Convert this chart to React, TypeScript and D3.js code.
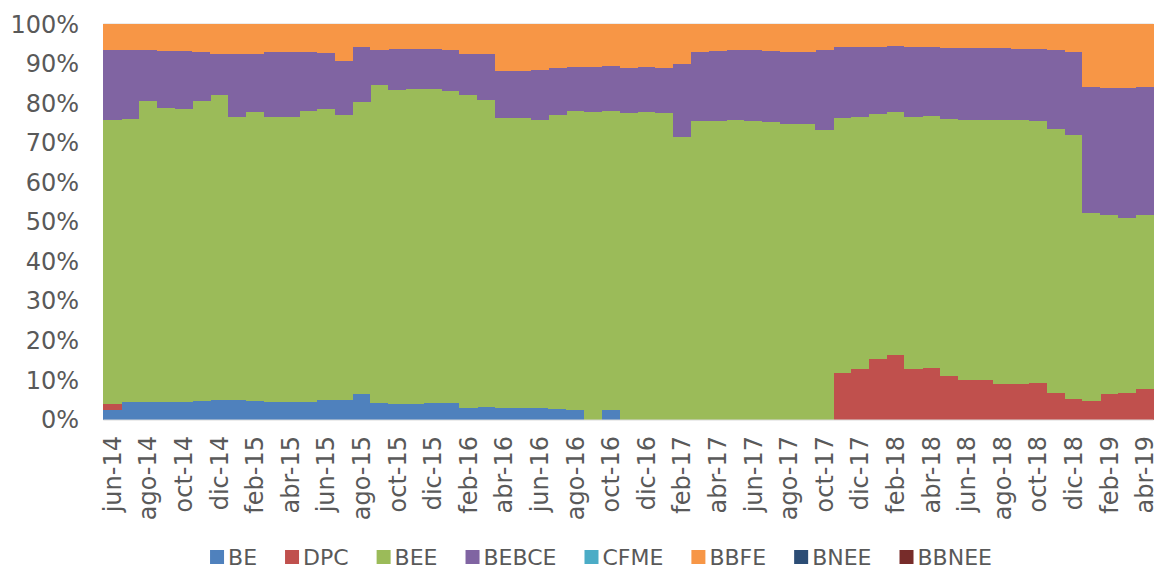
import React, { useEffect, useRef } from 'react';
import * as d3 from 'd3';

const W = 1158;
const H = 570;
const FONT = '"DejaVu Sans", Verdana, sans-serif';
const TEXT = '#595959';

const months = [
  'jun-14','jul-14','ago-14','sep-14','oct-14','nov-14','dic-14','ene-15','feb-15','mar-15',
  'abr-15','may-15','jun-15','jul-15','ago-15','sep-15','oct-15','nov-15','dic-15','ene-16',
  'feb-16','mar-16','abr-16','may-16','jun-16','jul-16','ago-16','sep-16','oct-16','nov-16',
  'dic-16','ene-17','feb-17','mar-17','abr-17','may-17','jun-17','jul-17','ago-17','sep-17',
  'oct-17','nov-17','dic-17','ene-18','feb-18','mar-18','abr-18','may-18','jun-18','jul-18',
  'ago-18','sep-18','oct-18','nov-18','dic-18','ene-19','feb-19','mar-19','abr-19'
];

const BE = [
  2.3,4.3,4.4,4.45,4.45,4.6,4.9,4.9,4.7,4.5,
  4.5,4.5,4.9,5.05,6.4,4.1,3.9,3.9,4.1,4.1,
  2.95,3.2,2.8,2.8,2.8,2.7,2.4,0,2.4,0,
  0,0,0,0,0,0,0,0,0,0,
  0,0,0,0,0,0,0,0,0,0,
  0,0,0,0,0,0,0,0,0
];
const DPC = [
  1.5,0,0,0,0,0,0,0,0,0,
  0,0,0,0,0,0,0,0,0,0,
  0,0,0,0,0,0,0,0,0,0,
  0,0,0,0,0,0,0,0,0,0,
  0,11.7,12.7,15.3,16.25,12.7,12.9,10.9,9.9,9.9,
  9.1,9.0,9.2,6.7,5.1,4.6,6.4,6.7,7.8
];
const BEE = [
  71.9,71.7,76.2,74.35,74.0,75.9,77.1,71.6,73.0,72.0,
  71.9,73.4,73.55,71.95,74.0,80.5,79.4,79.7,79.4,79.0,
  79.05,77.6,73.5,73.4,73.0,74.2,75.5,77.7,75.5,77.4,
  77.7,77.4,71.5,75.4,75.5,75.7,75.4,75.3,74.7,74.7,
  73.2,64.6,63.8,62.0,61.55,63.8,63.9,65.1,65.9,65.9,
  66.7,66.7,66.3,66.8,66.9,47.6,45.2,44.3,44.0
];
const BEBCE = [
  17.6,17.3,12.7,14.3,14.65,12.35,10.5,16.0,14.8,16.3,
  16.5,15.0,14.15,13.7,13.8,8.8,10.4,10.1,10.1,10.4,
  10.5,11.5,11.9,11.9,12.6,11.9,11.3,11.5,11.5,11.5,
  11.35,11.6,18.3,17.6,17.6,17.6,17.9,17.9,18.3,18.3,
  20.15,17.8,17.8,17.0,16.6,17.7,17.4,18.0,18.1,18.1,
  18.1,18.1,18.3,19.9,21.0,31.8,32.1,32.75,32.3
];
const CFME = [
  0,0,0,0,0,0,0,0,0,0,
  0,0,0,0,0,0,0,0,0,0,
  0,0,0,0,0,0,0,0,0,0,
  0,0,0,0,0,0,0,0,0,0,
  0,0,0,0,0,0,0,0,0,0,
  0,0,0,0,0,0,0,0,0
];
const BBFE = [
  6.7,6.7,6.7,6.9,6.9,7.15,7.5,7.5,7.5,7.2,
  7.1,7.1,7.4,9.3,5.8,6.6,6.3,6.3,6.4,6.5,
  7.5,7.7,11.8,11.9,11.6,11.2,10.8,10.8,10.6,11.1,
  10.95,11.0,10.2,7.0,6.9,6.7,6.7,6.8,7.0,7.0,
  6.65,5.9,5.7,5.7,5.6,5.8,5.8,6.0,6.1,6.1,
  6.1,6.2,6.2,6.6,7.0,16.0,16.3,16.25,15.9
];
const BNEE = [
  0,0,0,0,0,0,0,0,0,0,
  0,0,0,0,0,0,0,0,0,0,
  0,0,0,0,0,0,0,0,0,0,
  0,0,0,0,0,0,0,0,0,0,
  0,0,0,0,0,0,0,0,0,0,
  0,0,0,0,0,0,0,0,0
];
const BBNEE = [
  0,0,0,0,0,0,0,0,0,0,
  0,0,0,0,0,0,0,0,0,0,
  0,0,0,0,0,0,0,0,0,0,
  0,0,0,0,0,0,0,0,0,0,
  0,0,0,0,0,0,0,0,0,0,
  0,0,0,0,0,0,0,0,0
];

const seriesNames = ['BE','DPC','BEE','BEBCE','CFME','BBFE','BNEE','BBNEE'];
const seriesValues = [BE, DPC, BEE, BEBCE, CFME, BBFE, BNEE, BBNEE];
const seriesColors = ['#4F81BD','#C0504D','#9BBB59','#8064A2','#4BACC6','#F79646','#2C4D75','#772C2A'];
const yTicks = [0,0.1,0.2,0.3,0.4,0.5,0.6,0.7,0.8,0.9,1];

export default function App() {
  const ref = useRef<SVGSVGElement>(null);

  useEffect(() => {
    const svg = d3.select(ref.current);
    svg.selectAll('*').remove();

    const data = months.map((m, i) => {
      const row: any = { month: m };
      seriesNames.forEach((k, j) => { row[k] = seriesValues[j][i]; });
      return row;
    });

    const stacked = d3.stack<any>().keys(seriesNames).offset(d3.stackOffsetExpand)(data);

    const x = d3.scaleBand<string>().domain(months).range([103.3, 1153.5]).paddingInner(0).paddingOuter(0);
    const y = d3.scaleLinear().domain([0, 1]).range([419.5, 24]);
    const color = d3.scaleOrdinal<string, string>().domain(seriesNames).range(seriesColors);

    // top gridline
    svg.append('line')
      .attr('x1', x.range()[0]).attr('x2', x.range()[1])
      .attr('y1', y(1)).attr('y2', y(1))
      .attr('stroke', '#D9D9D9').attr('stroke-width', 1.2);

    const g = svg.append('g');
    g.selectAll('g.series')
      .data(stacked)
      .join('g')
      .attr('class', 'series')
      .attr('fill', (d) => color(d.key))
      .selectAll('rect')
      .data((d) => d)
      .join('rect')
      .attr('x', (d: any) => x(d.data.month) as number)
      .attr('width', x.bandwidth() + 0.4)
      .attr('y', (d) => y(d[1]))
      .attr('height', (d) => Math.max(0, y(d[0]) - y(d[1])))
      .attr('shape-rendering', 'crispEdges');

    // bottom axis line
    svg.append('line')
      .attr('x1', x.range()[0]).attr('x2', x.range()[1])
      .attr('y1', y(0) + 0.5).attr('y2', y(0) + 0.5)
      .attr('stroke', '#D9D9D9').attr('stroke-width', 1.2);

    // y labels
    const fmt = d3.format('.0%');
    svg.append('g')
      .selectAll('text')
      .data(yTicks)
      .join('text')
      .attr('x', 79)
      .attr('y', (d) => y(d))
      .attr('dy', '0.36em')
      .attr('text-anchor', 'end')
      .attr('font-family', FONT)
      .attr('font-size', 24)
      .attr('fill', TEXT)
      .text((d) => fmt(d));

    // x labels
    svg.append('g')
      .selectAll('text')
      .data(months.filter((_, i) => i % 2 === 0))
      .join('text')
      .attr('transform', (d) => `translate(${(x(d) as number) + x.bandwidth() / 2},436) rotate(-90)`)
      .attr('dy', '0.36em')
      .attr('text-anchor', 'end')
      .attr('font-family', FONT)
      .attr('font-size', 24)
      .attr('fill', TEXT)
      .text((d) => d);

    // legend
    const lg = svg.append('g');
    const items = lg.selectAll('g').data(seriesNames).join('g');
    const marker = 14;
    const baseline = 564.5;
    items.append('rect')
      .attr('width', marker).attr('height', marker)
      .attr('y', baseline - 14.5)
      .attr('fill', (d) => color(d));
    const texts = items.append('text')
      .attr('x', marker + 4)
      .attr('y', baseline)
      .attr('font-family', FONT)
      .attr('font-size', 22)
      .attr('fill', TEXT)
      .text((d) => d);
    const widths: number[] = [];
    texts.each(function () { widths.push((this as SVGTextElement).getComputedTextLength()); });
    const gap = 28;
    const itemW = widths.map((w) => marker + 4 + w);
    const total = d3.sum(itemW) + gap * (itemW.length - 1);
    let cx = 601 - total / 2;
    items.each(function (_, i) {
      d3.select(this).attr('transform', `translate(${cx},0)`);
      cx += itemW[i] + gap;
    });
  }, []);

  return (
    <svg
      ref={ref}
      width={W}
      height={H}
      style={{ position: 'absolute', left: 0, top: 0, background: '#fff' }}
    />
  );
}
